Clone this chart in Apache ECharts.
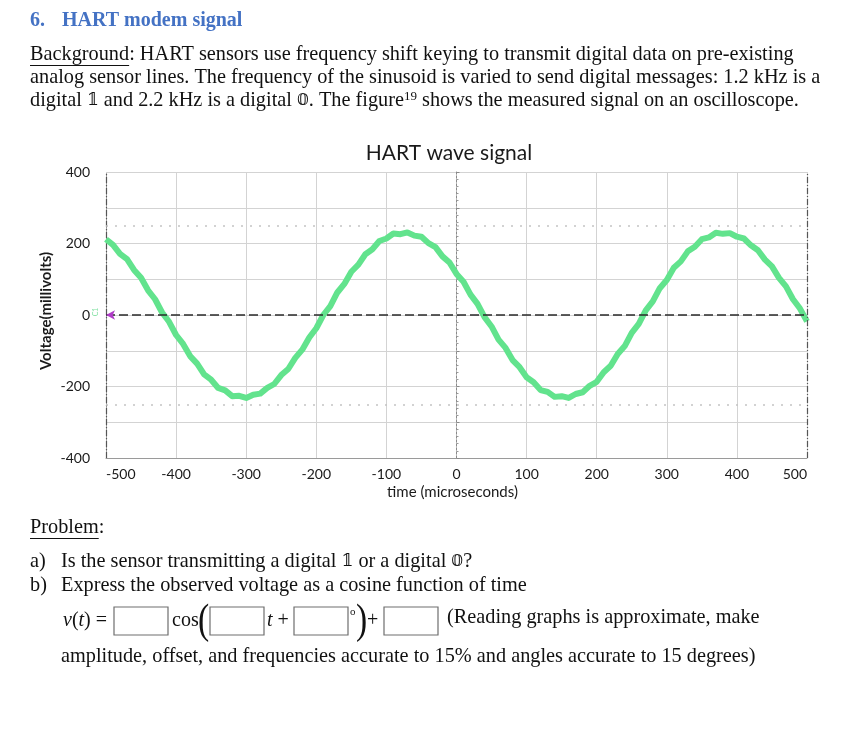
<!DOCTYPE html>
<html>
<head>
<meta charset="utf-8">
<script src="https://cdn.jsdelivr.net/npm/echarts@6/dist/echarts.min.js"></script>
<style>
html,body{margin:0;padding:0;background:#fff;}
#c{width:854px;height:735px;}
</style>
</head>
<body>
<div id="c"></div>
<script>
// ---- data ----
var timeUs = [-500,-490,-480,-470,-460,-450,-440,-430,-420,-410,-400,-390,-380,-370,-360,-350,-340,-330,-320,-310,
  -300,-290,-280,-270,-260,-250,-240,-230,-220,-210,-200,-190,-180,-170,-160,-150,-140,-130,-120,-110,
  -100,-90,-80,-70,-60,-50,-40,-30,-20,-10,0,10,20,30,40,50,60,70,80,90,
  100,110,120,130,140,150,160,170,180,190,200,210,220,230,240,250,260,270,280,290,
  300,310,320,330,340,350,360,370,380,390,400,410,420,430,440,450,460,470,480,490,500];
var voltageMv = [212,196,171,156,126,104,69,44,7,-19,-56,-81,-115,-136,-166,-181,-204,-211,-227,-226,
  -232,-223,-220,-204,-193,-168,-151,-120,-97,-63,-37,0,25,63,87,121,141,170,184,207,
  214,228,226,231,222,219,201,190,164,147,115,93,57,31,-6,-32,-69,-92,-126,-146,
  -174,-188,-210,-215,-229,-227,-232,-221,-216,-198,-187,-160,-142,-109,-87,-50,-25,13,38,75,
  98,132,150,178,191,212,217,230,227,229,219,214,195,181,155,136,104,80,44,18,-18];
var referenceLevels = [0, 250, -250];
var chartTitle = 'HART wave signal';
var xName = 'time (microseconds)';
var yName = 'Voltage(millivolts)';

var heading = ['6.', 'HART modem signal'];
var bgLines = [
  '{u|Background}: HART sensors use frequency shift keying to transmit digital data on pre-existing',
  'analog sensor lines. The frequency of the sinusoid is varied to send digital messages: 1.2 kHz is a',
  'digital {m|\uD835\uDFD9} and 2.2 kHz is a digital {m|\uD835\uDFD8}. The figure{sup|19} shows the measured signal on an oscilloscope.'
];
var problemLines = [
  ['a)', 'Is the sensor transmitting a digital {m|\uD835\uDFD9} or a digital {m|\uD835\uDFD8}?'],
  ['b)', 'Express the observed voltage as a cosine function of time']
];
var noteLine1 = '(Reading graphs is approximate, make';
var noteLine2 = 'amplitude, offset, and frequencies accurate to 15% and angles accurate to 15 degrees)';

var SERIF = '"Liberation Serif","Times New Roman",serif';
var CH = 'Lato, "Open Sans", sans-serif';
var FS = 20.3;

function measure(txt, font) {
  var c = document.createElement('canvas').getContext('2d');
  c.font = font; return c.measureText(txt).width;
}

var chart = echarts.init(document.getElementById('c'), null, {renderer: 'canvas'});

var seriesData = timeUs.map(function (t, i) { return [t, voltageMv[i]]; });

var richBase = {
  u: {fontFamily: SERIF, fontSize: FS, fill: '#111'},
  m: {fontFamily: '"DejaVu Serif","DejaVu Sans",serif', fontSize: 17, fill: '#111'},
  sup: {fontFamily: SERIF, fontSize: 13, verticalAlign: 'top', padding: [0, 0, 8, 0], fill: '#111'}
};
function T(x, y, text, extra) {
  var st = {text: text, fontFamily: SERIF, fontSize: FS, fill: '#111', verticalAlign: 'middle'};
  for (var k in (extra || {})) st[k] = extra[k];
  return {type: 'text', x: x, y: y, style: st};
}

var g = [];
// heading
g.push({type: 'text', x: 30, y: 21, style: {text: heading[0], font: 'bold 20px ' + SERIF, fill: '#4472C4', verticalAlign: 'middle'}});
g.push({type: 'text', x: 62, y: 21, style: {text: heading[1], font: 'bold 20px ' + SERIF, fill: '#4472C4', verticalAlign: 'middle'}});
// background paragraph
var bgY = [55, 78, 101];
bgLines.forEach(function (ln, i) { g.push(T(30, bgY[i], ln, {rich: richBase})); });
var wBg = measure('Background', FS + 'px ' + SERIF);
g.push({type: 'line', shape: {x1: 30, y1: 65.5, x2: 30 + wBg, y2: 65.5}, style: {stroke: '#111', lineWidth: 1}});
// problem
g.push(T(30, 528, 'Problem:'));
var wPr = measure('Problem', FS + 'px ' + SERIF);
g.push({type: 'line', shape: {x1: 30, y1: 538.5, x2: 30 + wPr, y2: 538.5}, style: {stroke: '#111', lineWidth: 1}});
var prY = [562, 586];
problemLines.forEach(function (p, i) {
  g.push(T(30, prY[i], p[0]));
  g.push(T(61, prY[i], p[1], {rich: richBase}));
});
// equation
var eqY = 621;
var ital = {i: {fontFamily: SERIF, fontStyle: 'italic', fontSize: 20, fill: '#111'}};
g.push(T(63, eqY, '{i|v}({i|t}) =', {fontSize: 20, rich: ital}));
var boxes = [[114, 54], [210, 54], [294, 54], [384, 54]];
boxes.forEach(function (b) {
  g.push({type: 'rect', shape: {x: b[0], y: 607, width: b[1], height: 28}, style: {fill: '#fff', stroke: '#6e6e6e', lineWidth: 1.2}});
});
g.push(T(172, eqY, 'cos', {fontSize: 20}));
g.push({type: 'text', x: 198, y: eqY + 1, scaleX: 0.8, style: {text: '(', fontFamily: SERIF, fontSize: 42, fill: '#111', verticalAlign: 'middle'}});
g.push(T(267, eqY, '{i|t} +', {fontSize: 20, rich: ital}));
g.push(T(350, 612, 'o', {fontSize: 11}));
g.push({type: 'text', x: 356, y: eqY + 1, scaleX: 0.8, style: {text: ')', fontFamily: SERIF, fontSize: 42, fill: '#111', verticalAlign: 'middle'}});
g.push(T(367, eqY, '+', {fontSize: 20}));
g.push(T(447, 618, noteLine1));
g.push(T(61, 657, noteLine2));
// C1 channel tag
g.push({type: 'text', x: 96, y: 312, rotation: Math.PI / 2, style: {text: 'C1', fontFamily: CH, fontSize: 7, fill: '#7fe0a0', align: 'center', verticalAlign: 'middle'}});

var grid = {left: 106, right: 47, top: 172, bottom: 277};
var gridColor = '#d3d3d3';

chart.setOption({
  animation: false,
  backgroundColor: '#fff',
  title: {text: chartTitle, left: 444, top: 138, textAlign: 'center',
    textStyle: {fontFamily: CH, fontSize: 21, fontWeight: 'normal', color: '#1a1a1a'}},
  grid: grid,
  xAxis: [{
    type: 'value', min: -500, max: 500, interval: 100,
    name: xName, nameLocation: 'middle', nameGap: 27, nameMoveOverlap: false,
    nameTextStyle: {fontFamily: CH, fontSize: 15, color: '#1a1a1a', padding: [0, 8, 0, 0]},
    axisLine: {show: true, onZero: false, lineStyle: {color: '#9a9a9a', width: 1}},
    axisTick: {show: false},
    axisLabel: {fontFamily: CH, fontSize: 14, color: '#1a1a1a', margin: 9, alignMinLabel: 'left', alignMaxLabel: 'right'},
    splitLine: {show: true, lineStyle: {color: gridColor, width: 1}}
  }],
  yAxis: [{
    type: 'value', min: -400, max: 400, interval: 200,
    name: yName, nameLocation: 'middle', nameGap: 52, nameMoveOverlap: false,
    nameTextStyle: {fontFamily: CH, fontSize: 15, fontWeight: 'bold', color: '#1a1a1a', padding: [0, 0, 0, 8]},
    axisLine: {show: true, onZero: false, lineStyle: {color: '#555', width: 1.2, type: [6, 2, 1, 2]}},
    axisTick: {show: false},
    axisLabel: {fontFamily: CH, fontSize: 14, color: '#1a1a1a', margin: 16},
    splitLine: {show: true, lineStyle: {color: gridColor, width: 1}},
    minorTick: {show: false, splitNumber: 2},
    minorSplitLine: {show: true, lineStyle: {color: gridColor, width: 1}}
  }, {
    type: 'value', min: -400, max: 400, interval: 100, position: 'left',
    axisLine: {show: true, onZero: true, lineStyle: {color: '#8a8a8a', width: 1, type: [2, 2]}},
    axisTick: {show: true, inside: true, length: 3, lineStyle: {color: '#8a8a8a'}},
    minorTick: {show: true, splitNumber: 5, length: 2, lineStyle: {color: '#9a9a9a'}},
    axisLabel: {show: false},
    splitLine: {show: false}
  }],
  graphic: g,
  series: [{
    type: 'line', xAxisIndex: 0, yAxisIndex: 0,
    data: seriesData, showSymbol: false, symbol: 'none', smooth: false,
    lineStyle: {color: '#62e38d', width: 6, join: 'round'},
    z: 3,
    markLine: {
      silent: true, symbol: 'none', label: {show: false}, animation: false,
      data: [
        {yAxis: referenceLevels[0], lineStyle: {color: '#2a2a2a', type: [9, 4], width: 1.6}},
        {yAxis: referenceLevels[1], lineStyle: {color: '#c4c4c4', type: [2, 7], width: 1.6}},
        {yAxis: referenceLevels[2], lineStyle: {color: '#c4c4c4', type: [2, 7], width: 1.6}},
        {xAxis: 500, lineStyle: {color: '#555', type: [6, 2, 1, 2], width: 1.2}}
      ]
    },
    markPoint: {
      silent: true, label: {show: false},
      data: [{coord: [-500, 0], symbol: 'arrow', symbolSize: [7, 9], symbolRotate: 90, itemStyle: {color: '#b03cc8'}}]
    }
  }]
});
</script>
</body>
</html>
